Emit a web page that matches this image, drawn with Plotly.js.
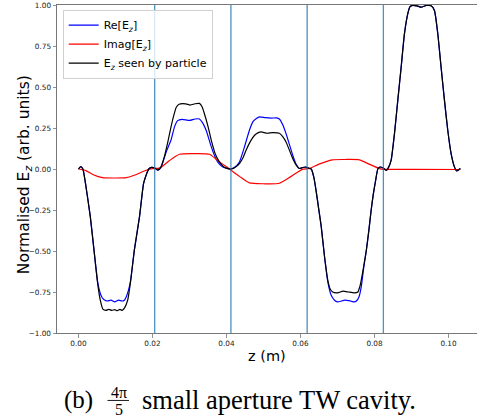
<!DOCTYPE html>
<html>
<head>
<meta charset="utf-8">
<script src="https://cdn.plot.ly/plotly-3.0.1.min.js"></script>
<style>html,body{margin:0;padding:0;background:#fff;}#chart{width:477px;height:418px;}</style>
</head>
<body>
<div id="chart"></div>
<script>
// Re[Ez]
const zRe = [0,0.0006,0.0012,0.0019,0.0032,0.0042,0.0052,0.0060,0.0066,0.0072,0.0078,0.0088,0.0098,0.0108,0.0118,0.0124,0.0129,0.0135,0.0141,0.0151,0.0165,0.0176,0.0184,0.0190,0.0198,0.0206,0.0214,0.0222,0.0228,0.0238,0.0250,0.0260,0.0268,0.0280,0.0300,0.0315,0.0327,0.0336,0.0345,0.0359,0.0368,0.0376,0.0390,0.0404,0.0412,0.0422,0.0435,0.0448,0.0462,0.0472,0.0480,0.0490,0.0505,0.0520,0.0535,0.0543,0.0552,0.0561,0.0570,0.0579,0.0588,0.0597,0.0606,0.0614,0.0622,0.0629,0.0636,0.0642,0.0649,0.0656,0.0665,0.0674,0.0683,0.0692,0.0700,0.0720,0.0735,0.0745,0.0751,0.0758,0.0764,0.0771,0.0778,0.0785,0.0791,0.0797,0.0803,0.0809,0.0815,0.0822,0.0832,0.0838,0.0845,0.0854,0.0863,0.0872,0.0881,0.0890,0.0896,0.0903,0.0915,0.0926,0.0940,0.0953,0.0962,0.0971,0.0980,0.0989,0.0998,0.1007,0.1016,0.1022,0.1032];
const reEz = [0,0.015,0.0,-0.088,-0.29,-0.495,-0.69,-0.765,-0.79,-0.80,-0.805,-0.80,-0.81,-0.80,-0.805,-0.80,-0.78,-0.74,-0.68,-0.495,-0.29,-0.088,-0.03,0.0,0.01,0.006,-0.007,0.005,0.04,0.11,0.175,0.26,0.295,0.303,0.296,0.305,0.305,0.28,0.236,0.135,0.08,0.043,0.012,0.002,0.0,0.01,0.043,0.13,0.236,0.29,0.307,0.318,0.313,0.31,0.312,0.305,0.27,0.216,0.15,0.084,0.03,0.003,0.009,0.012,0.005,0.0,-0.05,-0.13,-0.24,-0.35,-0.535,-0.69,-0.77,-0.80,-0.81,-0.80,-0.805,-0.81,-0.805,-0.78,-0.72,-0.6,-0.495,-0.37,-0.25,-0.15,-0.07,0.0,0.012,0.008,-0.008,0.01,0.054,0.216,0.42,0.62,0.825,0.947,0.99,0.998,0.995,0.987,0.997,0.995,0.967,0.825,0.62,0.42,0.236,0.094,0.013,-0.012,0.003];

// Imag[Ez]
const zIm = [0,0.0020,0.0040,0.0065,0.0095,0.0129,0.0155,0.0178,0.0195,0.0206,0.0219,0.0245,0.0273,0.0310,0.0354,0.0380,0.0408,0.0435,0.0462,0.0500,0.0543,0.0575,0.0605,0.0624,0.0650,0.0686,0.0720,0.0759,0.0785,0.0814,0.0824,0.0900,0.1032];
const imEz = [0,-0.01,-0.035,-0.053,-0.055,-0.053,-0.035,-0.012,0.0,0.004,0.005,0.05,0.09,0.094,0.09,0.045,0.0,-0.045,-0.085,-0.09,-0.087,-0.045,-0.002,0.003,0.03,0.056,0.058,0.056,0.03,0.002,-0.002,-0.002,-0.003];

// Ez seen by particle
const zSeen = [0,0.0006,0.0012,0.0019,0.0032,0.0042,0.0052,0.0059,0.0066,0.0074,0.0082,0.0090,0.0098,0.0105,0.0112,0.0118,0.0125,0.0133,0.0140,0.0151,0.0165,0.0176,0.0184,0.0190,0.0198,0.0206,0.0214,0.0222,0.0232,0.0242,0.0250,0.0258,0.0264,0.0272,0.0290,0.0302,0.0315,0.0327,0.0334,0.0340,0.0350,0.0359,0.0370,0.0381,0.0393,0.0404,0.0412,0.0422,0.0435,0.0445,0.0453,0.0465,0.0476,0.0486,0.0494,0.0510,0.0525,0.0543,0.0552,0.0561,0.0570,0.0579,0.0588,0.0597,0.0606,0.0614,0.0622,0.0629,0.0636,0.0642,0.0649,0.0656,0.0665,0.0674,0.0680,0.0687,0.0700,0.0715,0.0730,0.0745,0.0755,0.0760,0.0764,0.0771,0.0778,0.0785,0.0791,0.0797,0.0803,0.0809,0.0815,0.0822,0.0832,0.0838,0.0845,0.0854,0.0863,0.0872,0.0881,0.0890,0.0896,0.0903,0.0915,0.0926,0.0940,0.0953,0.0962,0.0971,0.0980,0.0989,0.0998,0.1007,0.1016,0.1022,0.1032];
const seenEz = [0,0.015,0.0,-0.088,-0.29,-0.495,-0.70,-0.80,-0.855,-0.862,-0.856,-0.862,-0.858,-0.864,-0.856,-0.862,-0.845,-0.80,-0.70,-0.495,-0.29,-0.088,-0.03,0.0,0.01,0.006,-0.007,0.01,0.074,0.17,0.256,0.33,0.375,0.395,0.397,0.39,0.398,0.40,0.38,0.34,0.26,0.175,0.09,0.043,0.012,0.002,0.0,0.008,0.033,0.07,0.115,0.17,0.206,0.222,0.226,0.218,0.222,0.218,0.198,0.165,0.115,0.064,0.025,0.003,0.009,0.012,0.005,0.0,-0.05,-0.13,-0.24,-0.35,-0.535,-0.68,-0.73,-0.75,-0.755,-0.745,-0.75,-0.755,-0.75,-0.72,-0.68,-0.59,-0.495,-0.37,-0.25,-0.15,-0.07,0.0,0.012,0.008,-0.008,0.01,0.054,0.216,0.42,0.62,0.825,0.947,0.99,0.998,0.995,0.987,0.997,0.995,0.967,0.825,0.62,0.42,0.236,0.094,0.013,-0.012,0.003];

// cell boundaries (vertical lines)
const cellEdges = [0.0206, 0.0412, 0.0618, 0.0824];

const xTicks = [0, 0.02, 0.04, 0.06, 0.08, 0.10];
const yTicks = [-1, -0.75, -0.5, -0.25, 0, 0.25, 0.5, 0.75, 1];

const L = 57, R = 477, T = 4.7, B = 333;
const W = R - L, H = B - T;
const px = v => (v - L) / W;
const py = v => (B - v) / H;

const traces = [
  {x: zRe, y: reEz, type: 'scatter', mode: 'lines', name: 'Re[E<sub><i>z</i></sub>]',
   line: {color: '#0000ff', width: 1.2, shape: 'spline', smoothing: 0.5}},
  {x: zIm, y: imEz, type: 'scatter', mode: 'lines', name: 'Imag[E<sub><i>z</i></sub>]',
   line: {color: '#ff0000', width: 1.2, shape: 'spline', smoothing: 0.6}},
  {x: zSeen, y: seenEz, type: 'scatter', mode: 'lines', name: 'E<sub><i>z</i></sub> seen by particle',
   line: {color: '#000000', width: 1.2, shape: 'spline', smoothing: 0.5}}
];

const shapes = cellEdges.map(z => ({
  type: 'line', xref: 'x', yref: 'paper', x0: z, x1: z, y0: 0, y1: 1,
  line: {color: '#1f77b4', width: 1.3}, opacity: 0.8, layer: 'above'
}));
// fraction bar of caption
shapes.push({type: 'line', xref: 'paper', yref: 'paper', x0: px(107.5), x1: px(129), y0: py(400.5), y1: py(400.5),
  line: {color: '#000', width: 0.9}});

const serif = 'Liberation Serif, DejaVu Serif, serif';
const annotations = [
  {text: 'Normalised E<sub><i>z</i></sub> (arb. units)', textangle: -90, xref: 'paper', yref: 'paper',
   x: px(25), y: py(175), xanchor: 'center', yanchor: 'middle', showarrow: false,
   font: {family: 'DejaVu Sans', size: 15.5, color: '#000'}},
  {text: 'z (m)', xref: 'paper', yref: 'paper', x: px(267), y: py(356.5), xanchor: 'center', yanchor: 'middle',
   showarrow: false, font: {family: 'DejaVu Sans', size: 14.5, color: '#000'}},
  {text: '(b)', xref: 'paper', yref: 'paper', x: px(62), y: py(400), xanchor: 'left', yanchor: 'middle',
   showarrow: false, font: {family: serif, size: 25, color: '#000'}},
  {text: '4π', xref: 'paper', yref: 'paper', x: px(118.5), y: py(392.5), xanchor: 'center', yanchor: 'middle',
   showarrow: false, font: {family: serif, size: 16, color: '#000'}},
  {text: '5', xref: 'paper', yref: 'paper', x: px(118.5), y: py(409.5), xanchor: 'center', yanchor: 'middle',
   showarrow: false, font: {family: serif, size: 16, color: '#000'}},
  {text: 'small aperture TW cavity.', xref: 'paper', yref: 'paper', x: px(140), y: py(400), xanchor: 'left', yanchor: 'middle',
   showarrow: false, font: {family: serif, size: 26.5, color: '#000'}}
];

const layout = {
  width: 477, height: 418,
  margin: {l: L, r: 0, t: T, b: 418 - B, pad: 0},
  paper_bgcolor: '#fff', plot_bgcolor: '#fff',
  showlegend: true,
  legend: {x: px(62.7), y: py(9.3), xanchor: 'left', yanchor: 'top',
    bgcolor: 'rgba(255,255,255,0.8)', bordercolor: '#d0d0d0', borderwidth: 1,
    font: {family: 'DejaVu Sans', size: 11, color: '#000'}, tracegroupgap: 0},
  xaxis: {range: [-0.0058, 0.1077], tickvals: xTicks, tickformat: '.2f',
    showgrid: false, zeroline: false, showline: true, linecolor: '#777', linewidth: 1, mirror: true,
    ticks: 'outside', ticklen: 3.5, tickwidth: 0.8, tickcolor: '#777',
    tickfont: {family: 'DejaVu Sans', size: 7.3, color: '#222'}},
  yaxis: {range: [-1, 1], tickvals: yTicks, tickformat: '.2f',
    showgrid: false, zeroline: false, showline: true, linecolor: '#777', linewidth: 1,
    ticks: 'outside', ticklen: 3.5, tickwidth: 0.8, tickcolor: '#777',
    tickfont: {family: 'DejaVu Sans', size: 7.3, color: '#222'}},
  shapes: shapes,
  annotations: annotations
};

Plotly.newPlot('chart', traces, layout, {displayModeBar: false, staticPlot: true});
</script>
</body>
</html>
